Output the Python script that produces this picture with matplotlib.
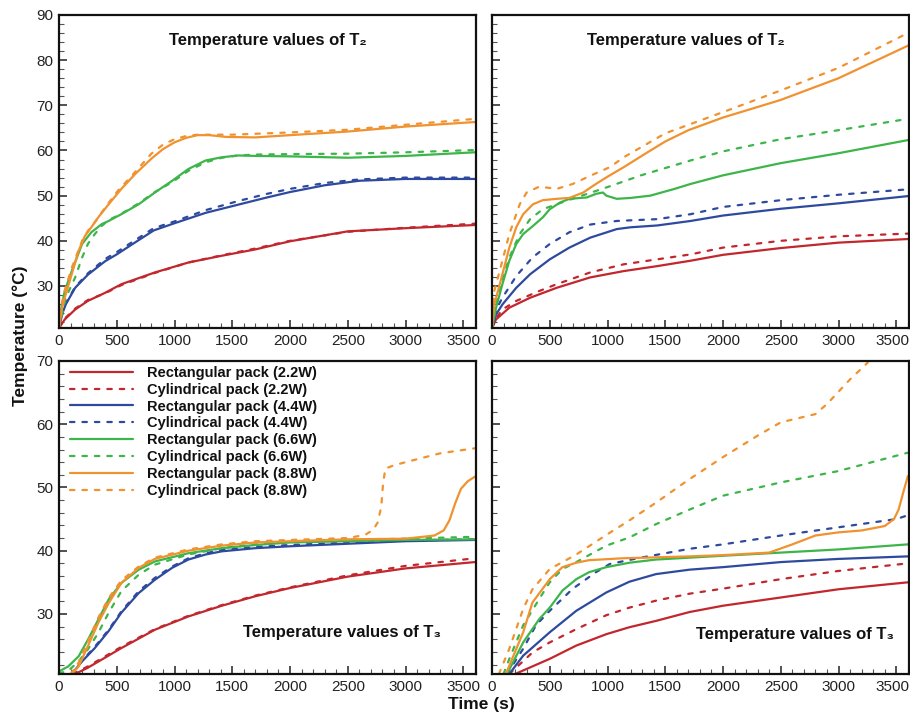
import matplotlib
matplotlib.use("Agg")
import matplotlib.pyplot as plt
from matplotlib.ticker import MultipleLocator
from matplotlib.transforms import ScaledTranslation

plt.rcParams['font.family'] = ['Liberation Sans', 'DejaVu Sans']

# ---------------- data (time s, temperature °C) ----------------
TL_RECT_22 = [(0,20.7),(50,22.6),(140,24.8),(250,26.7),(400,28.5),(540,30.4),(830,33),(1120,35.2),(1410,36.7),(1700,38.1),(2000,39.9),(2500,42.1),(3000,42.8),(3600,43.5)]
TL_CYL_22 = [(0,20.7),(50,22.8),(140,25),(250,26.9),(400,28.4),(540,30.2),(830,32.9),(1120,35.2),(1410,36.8),(1700,38.3),(2000,40),(2500,42),(3000,42.9),(3600,43.8)]
TL_RECT_44 = [(0,20.7),(30,24),(60,26),(140,29.6),(250,32.5),(400,35.5),(500,37),(650,39.5),(820,42.3),(1000,43.9),(1270,46.2),(1550,48),(1800,49.6),(2000,50.8),(2300,52.3),(2600,53.3),(3000,53.7),(3600,53.7)]
TL_CYL_44 = [(0,20.7),(30,24),(60,26.2),(140,29.8),(250,32.8),(400,36),(500,37.5),(650,40),(820,42.8),(1000,44.3),(1270,46.8),(1550,48.8),(1800,50.4),(2000,51.5),(2300,52.8),(2600,53.6),(3000,54),(3600,54)]
TL_RECT_66 = [(0,20.7),(25,26),(50,28.9),(110,33.3),(200,39.3),(280,41.9),(370,43.7),(430,44.4),(540,45.9),(690,48.1),(830,50.7),(980,53.3),(1120,55.9),(1270,57.8),(1410,58.5),(1550,58.9),(1700,58.8),(2000,58.7),(2500,58.4),(3000,58.8),(3600,59.6)]
TL_CYL_66 = [(0,20.7),(30,24),(60,27.5),(140,31.9),(200,36.3),(250,39.3),(310,41.5),(370,43.3),(430,44.6),(540,46),(690,48.3),(830,50.8),(980,53),(1120,55.5),(1270,57.4),(1410,58.4),(1550,58.9),(1700,59.1),(2000,59.2),(2500,59.3),(3000,59.6),(3600,60.1)]
TL_RECT_88 = [(0,20.7),(25,25),(50,27.4),(110,32.6),(170,37.8),(225,41.1),(280,43),(340,45.2),(430,48.1),(540,51.5),(660,54.8),(800,58.2),(900,60.3),(1000,61.8),(1100,62.8),(1200,63.4),(1300,63.4),(1450,63),(1700,62.9),(2000,63.4),(2500,64.2),(3000,65.3),(3600,66.3)]
TL_CYL_88 = [(0,20.7),(25,26),(50,29),(110,34),(200,40),(250,42.2),(310,44.1),(400,47.4),(510,51.1),(630,54.4),(800,59.3),(900,61.3),(1000,62.5),(1100,63.2),(1200,63.5),(1500,63.5),(2000,64),(2500,64.6),(3000,65.7),(3600,67)]

TR_RECT_22 = [(0,20.7),(35,22.6),(150,25.2),(330,27.4),(560,29.6),(850,31.9),(1140,33.3),(1430,34.4),(1720,35.6),(2000,36.9),(2500,38.4),(3000,39.6),(3600,40.4)]
TR_CYL_22 = [(0,20.7),(40,23),(90,24.8),(210,26.7),(410,28.9),(560,30.4),(850,33),(1140,34.8),(1430,35.9),(1720,37),(2000,38.5),(2500,40),(3000,41),(3600,41.6)]
TR_RECT_44 = [(0,20.7),(35,23.7),(90,25.9),(210,29.6),(330,32.6),(500,35.9),(670,38.5),(850,40.7),(1080,42.6),(1200,43),(1430,43.4),(1720,44.4),(2000,45.6),(2500,47.1),(3000,48.3),(3600,49.9)]
TR_CYL_44 = [(0,20.7),(40,25),(90,27.4),(210,32.2),(350,36.3),(500,39.3),(670,41.9),(850,43.6),(1080,44.4),(1430,44.8),(1720,45.9),(2000,47.5),(2500,49),(3000,50.2),(3600,51.4)]
TR_RECT_66 = [(0,20.7),(35,25.2),(90,30.4),(150,35.6),(210,39.3),(270,41.5),(355,43.3),(440,45.2),(500,47),(590,48.5),(670,49.3),(820,49.6),(900,50.4),(960,50.7),(990,50),(1080,49.3),(1200,49.5),(1370,50),(1580,51.5),(1720,52.6),(2000,54.5),(2500,57.2),(3000,59.4),(3600,62.3)]
TR_CYL_66 = [(0,20.7),(30,25),(60,29),(150,36.3),(240,41.5),(330,44.8),(440,47),(560,48.1),(730,49.6),(1000,51.9),(1290,54.5),(1720,57.8),(2000,59.8),(2500,62.5),(3000,64.5),(3600,67)]
TR_RECT_88 = [(0,20.7),(20,25.9),(90,32.6),(150,38.5),(210,43),(270,45.9),(355,48.1),(440,49),(560,49.3),(670,49.5),(790,50.7),(900,52.6),(1000,54.2),(1140,56.3),(1340,59.5),(1500,62),(1700,64.5),(2000,67.3),(2500,71.2),(3000,76),(3600,83.2)]
TR_CYL_88 = [(0,20.7),(20,28.9),(90,35.6),(150,41.5),(240,48.1),(300,50.7),(410,52),(560,51.5),(700,52.6),(850,54.4),(1020,56.3),(1140,58.5),(1500,63.8),(2000,68.5),(2500,73.3),(3000,78.3),(3600,86)]

BL_RECT_22 = [(140,20.5),(250,21.5),(400,23.1),(540,24.6),(830,27.5),(1120,29.6),(1410,31.3),(1700,32.8),(2000,34.1),(2500,35.9),(3000,37.2),(3600,38.2)]
BL_CYL_22 = [(120,20.5),(250,21.7),(400,23.3),(540,24.8),(830,27.6),(1120,29.7),(1410,31.4),(1700,32.9),(2000,34.2),(2500,36.1),(3000,37.6),(3600,38.8)]
BL_RECT_44 = [(110,20.5),(200,22.5),(310,24.6),(430,27.3),(540,30.2),(690,33.3),(830,35.4),(980,37.3),(1120,38.6),(1270,39.4),(1410,39.9),(1700,40.4),(2000,40.7),(2500,41.1),(3000,41.5),(3600,41.7)]
BL_CYL_44 = [(110,20.5),(200,22.6),(310,24.8),(430,27.5),(540,30.4),(690,33.6),(830,35.7),(980,37.5),(1120,38.8),(1270,39.6),(1410,40.1),(1700,40.6),(2000,40.9),(2500,41.3),(3000,41.6),(3600,41.8)]
BL_RECT_66 = [(0,20.9),(80,21.7),(170,23.3),(250,25.9),(340,29.1),(430,32.3),(540,34.9),(690,37),(830,38.3),(1120,39.6),(1410,40.4),(1700,40.9),(2000,41.3),(2500,41.5),(3000,41.7),(3600,41.8)]
BL_CYL_66 = [(0,20.6),(80,21),(170,22.5),(250,24.4),(340,27),(430,30.2),(540,33.6),(690,36.2),(830,37.8),(1120,39.4),(1410,40.4),(1700,41),(2000,41.4),(2500,41.7),(3000,41.9),(3600,42.2)]
BL_RECT_88 = [(110,20.5),(170,21.7),(250,24.9),(340,28.6),(430,31.7),(540,34.9),(690,37.3),(830,38.7),(1120,40),(1410,40.8),(1700,41.3),(2000,41.5),(2500,41.8),(3000,41.9),(3250,42.4),(3330,43.2),(3380,44.8),(3430,47.5),(3480,49.8),(3540,51),(3600,51.7)]
BL_CYL_88 = [(100,20.5),(170,22.3),(250,25.6),(340,29.4),(430,32.5),(540,35.3),(690,37.5),(830,38.9),(1120,40.2),(1410,41),(1700,41.5),(2000,41.7),(2500,42),(2650,42.5),(2720,43.3),(2760,44.5),(2790,47),(2805,50.5),(2825,53),(2900,53.5),(3000,54),(3300,55.4),(3600,56.2)]

BR_RECT_22 = [(200,20.5),(500,22.9),(730,25),(990,26.8),(1190,27.9),(1420,28.9),(1710,30.3),(2000,31.3),(2500,32.6),(3000,33.9),(3600,35)]
BR_CYL_22 = [(150,20.5),(350,23.9),(500,25.5),(730,27.6),(990,29.8),(1190,31),(1420,32.1),(1710,33.2),(2000,34),(2500,35.5),(3000,36.8),(3600,38)]
BR_RECT_44 = [(150,20.5),(270,23.4),(500,27.1),(730,30.5),(990,33.4),(1190,35.1),(1420,36.3),(1710,37),(2000,37.4),(2500,38.2),(3000,38.7),(3600,39.1)]
BR_CYL_44 = [(130,20.5),(270,24.5),(380,28.2),(500,30.5),(700,34),(900,36.6),(1020,37.9),(1260,38.8),(1710,40.3),(2000,41),(2500,42.4),(3000,43.7),(3500,45),(3600,45.6)]
BR_RECT_66 = [(130,20.5),(270,25.5),(410,29.2),(500,31),(610,33.7),(730,35.5),(840,36.6),(990,37.4),(1190,38.1),(1420,38.6),(1710,38.9),(2000,39.2),(2500,39.7),(3000,40.2),(3600,41)]
BR_CYL_66 = [(100,20.5),(150,22.9),(270,28.2),(410,32.4),(500,35),(610,37.1),(730,38.2),(990,40.8),(1190,42.1),(1420,44.2),(1710,46.5),(2000,48.7),(2500,50.8),(3000,52.6),(3600,55.5)]
BR_RECT_88 = [(120,20.5),(270,27.1),(350,31.8),(500,35.5),(610,37.4),(730,38.1),(840,38.5),(1130,38.8),(1710,39.1),(2000,39.3),(2400,39.7),(2600,41),(2800,42.4),(3000,42.9),(3200,43.2),(3400,43.9),(3480,45),(3520,46.5),(3560,49.2),(3600,51.8)]
BR_CYL_88 = [(60,20.5),(150,24.5),(270,30.8),(350,33.9),(500,37.1),(730,39.4),(990,42.5),(1190,44.8),(1420,47.6),(1700,51.2),(2000,54.8),(2300,58.2),(2500,60.3),(2800,61.6),(2900,63.2),(3100,67.1),(3250,69.7),(3300,72)]

LABELS = ["Rectangular pack (2.2W)", "Cylindrical pack (2.2W)",
          "Rectangular pack (4.4W)", "Cylindrical pack (4.4W)",
          "Rectangular pack (6.6W)", "Cylindrical pack (6.6W)",
          "Rectangular pack (8.8W)", "Cylindrical pack (8.8W)"]
TITLE_T2 = "Temperature values of T\u2082"
TITLE_T3 = "Temperature values of T\u2083"
X_TICKS = [0, 500, 1000, 1500, 2000, 2500, 3000, 3500]
Y_TICKS_TOP = [30, 40, 50, 60, 70, 80, 90]
Y_TICKS_BOT = [30, 40, 50, 60, 70]

# ---------------- style ----------------
COLORS = ['#c1272d', '#c1272d', '#2e4a9e', '#2e4a9e', '#3db54a', '#3db54a', '#f0922f', '#f0922f']
DOT = (0, (2.0, 3.6))
STYLES = ['-', DOT, '-', DOT, '-', DOT, '-', DOT]

W, H = 910, 716
fig = plt.figure(figsize=(W / 100, H / 100), dpi=100)

def rect(l, r, t, b):
    return [l / W, 1 - b / H, (r - l) / W, (b - t) / H]

ax_tl = fig.add_axes(rect(59, 476, 15, 328))
ax_tr = fig.add_axes(rect(492, 909, 15, 328))
ax_bl = fig.add_axes(rect(59, 476, 361, 674))
ax_br = fig.add_axes(rect(492, 909, 361, 674))

panels = [
    (ax_tl, [TL_RECT_22, TL_CYL_22, TL_RECT_44, TL_CYL_44, TL_RECT_66, TL_CYL_66, TL_RECT_88, TL_CYL_88], (20.7, 90), Y_TICKS_TOP, True),
    (ax_tr, [TR_RECT_22, TR_CYL_22, TR_RECT_44, TR_CYL_44, TR_RECT_66, TR_CYL_66, TR_RECT_88, TR_CYL_88], (20.7, 90), Y_TICKS_TOP, False),
    (ax_bl, [BL_RECT_22, BL_CYL_22, BL_RECT_44, BL_CYL_44, BL_RECT_66, BL_CYL_66, BL_RECT_88, BL_CYL_88], (20.5, 70), Y_TICKS_BOT, True),
    (ax_br, [BR_RECT_22, BR_CYL_22, BR_RECT_44, BR_CYL_44, BR_RECT_66, BR_CYL_66, BR_RECT_88, BR_CYL_88], (20.5, 70), Y_TICKS_BOT, False),
]

for ax, series, ylim, yticks, ylab in panels:
    for data, c, ls, lab in zip(series, COLORS, STYLES, LABELS):
        xs = [p[0] for p in data]
        ys = [p[1] for p in data]
        ax.plot(xs, ys, color=c, linestyle=ls, linewidth=1.6, label=lab,
                solid_capstyle='round', dash_capstyle='round')
    ax.set_xlim(0, 3610)
    ax.set_ylim(*ylim)
    ax.set_xticks(X_TICKS)
    ax.set_yticks(yticks)
    ax.xaxis.set_minor_locator(MultipleLocator(100))
    ax.yaxis.set_minor_locator(MultipleLocator(2))
    ax.tick_params(which='major', direction='in', length=6, width=1.1, labelsize=11,
                   top=False, right=False, pad=4, colors='#222222', labelcolor='#222222')
    ax.tick_params(which='minor', direction='in', length=3.5, width=0.8, top=False, right=False,
                   colors='#555555')
    if not ylab:
        ax.set_yticklabels([])
        # keep the last x tick label inside the figure edge
        fig.canvas.draw()
        lbl = ax.get_xticklabels()[-1]
        lbl.set_transform(lbl.get_transform() + ScaledTranslation(-4 / 100, 0, fig.dpi_scale_trans))
    for s in ax.spines.values():
        s.set_linewidth(1.6)
        s.set_color('#111111')

tkw = dict(fontsize=12, fontweight='bold', ha='center', va='center', color='#111111')
fig.text(268 / W, 1 - 41 / H, TITLE_T2, **tkw)
fig.text(686 / W, 1 - 41 / H, TITLE_T2, **tkw)
fig.text(342 / W, 1 - 633 / H, TITLE_T3, **tkw)
fig.text(795 / W, 1 - 634 / H, TITLE_T3, **tkw)

leg = ax_bl.legend(loc='upper left', bbox_to_anchor=(0.026, 0.985), frameon=False,
                   borderpad=0, borderaxespad=0, labelspacing=0.2, handlelength=4.3,
                   handletextpad=1.0, prop={'weight': 'bold', 'size': 10.5})
for t in leg.get_texts():
    t.set_color('#111111')

fig.text(20 / W, 1 - 336 / H, "Temperature (\u00b0C)", rotation=90, fontsize=12.5,
         fontweight='bold', ha='center', va='center', color='#111111')
fig.text(481 / W, 1 - 704 / H, "Time (s)", fontsize=12.5, fontweight='bold',
         ha='center', va='center', color='#111111')

fig.savefig("out.png", dpi=100)
